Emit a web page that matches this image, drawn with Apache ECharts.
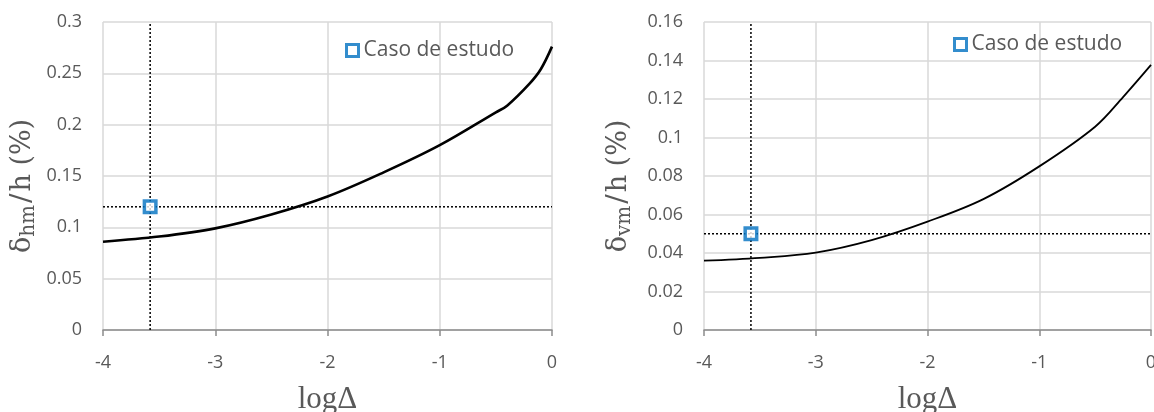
<!DOCTYPE html>
<html>
<head>
<meta charset="utf-8">
<script src="https://cdn.jsdelivr.net/npm/echarts@6/dist/echarts.min.js"></script>
<style>
  html, body { margin: 0; padding: 0; background: #fff; }
  #chart { width: 1154px; height: 412px; }
</style>
</head>
<body>
<div id="chart"></div>
<script>
// log(Delta) sample positions of each curve
const logDeltaH = [-4, -3.5, -3, -2.5, -2, -1.5, -1, -0.5, -0.4, -0.2, -0.1, 0];
const deltaHm   = [0.086, 0.091, 0.099, 0.1125, 0.130, 0.1535, 0.180, 0.212, 0.2185, 0.240, 0.254, 0.276];

const logDeltaV = [-4, -3.5, -3, -2.5, -2, -1.5, -1, -0.5, -0.25, 0];
const deltaVm   = [0.036, 0.0375, 0.0402, 0.0467, 0.0563, 0.068, 0.085, 0.1056, 0.121, 0.1377];

// case study point
const caseLogDelta = -3.58;
const caseHm = 0.12;
const caseVm = 0.05;

// axis ranges and tick steps
const xRange = [-4, 0];
const xStep = 1;
const yRangeH = [0, 0.3];
const yStepH = 0.05;
const yRangeV = [0, 0.16];
const yStepV = 0.02;

const legendName = 'Caso de estudo';
const xTitle = 'logΔ';

const tickFont = 'Open Sans';
const titleFont = 'Liberation Serif';
const nameFont = 'DejaVu Serif';
const gray = '#595959';
const gridGray = '#d9d9d9';
const blue = '#0070C0';

const pairs = (xs, ys) => xs.map((x, i) => [x, ys[i]]);

function yName(sub) {
  return '{d|δ}{s|' + sub + '}{sl|/}{d|h (%)}';
}

const nameRich = {
  d: { fontFamily: nameFont, fontSize: 27, color: gray },
  sl: { fontFamily: nameFont, fontSize: 28, color: gray, padding: [0, 2, 0, 2] },
  s: { fontFamily: nameFont, fontSize: 20, color: gray, padding: [12, 0, 0, 0] }
};

function xAxisCfg(gi) {
  return {
    gridIndex: gi, type: 'value', min: xRange[0], max: xRange[1], interval: xStep,
    name: xTitle, nameLocation: 'middle', nameGap: 54,
    nameTextStyle: { fontFamily: titleFont, fontSize: 31, color: gray },
    axisLine: { show: true, onZero: false, lineStyle: { color: '#8c8c8c', width: 1.5 } },
    axisTick: { show: true, length: 6, lineStyle: { color: '#8c8c8c', width: 1.5 } },
    axisLabel: { fontFamily: tickFont, fontSize: 18, color: gray, margin: 24 },
    splitLine: { show: true, lineStyle: { color: gridGray, width: 1.5 } }
  };
}

function yAxisCfg(gi, range, step, sub, gap) {
  return {
    gridIndex: gi, type: 'value', min: range[0], max: range[1], interval: step,
    name: yName(sub), nameLocation: 'middle', nameRotate: 90, nameGap: gap,
    nameTextStyle: { rich: nameRich, padding: [0, 20, 0, 0] },
    axisLine: { show: false },
    axisTick: { show: false },
    axisLabel: { fontFamily: tickFont, fontSize: 18, color: gray, margin: 21 },
    splitLine: { show: true, lineStyle: { color: gridGray, width: 1.5 } }
  };
}

function guideLines(gi, yVal, yRange) {
  const style = { color: '#000', width: 1.5, type: [2, 2] };
  return [
    {
      type: 'line', xAxisIndex: gi, yAxisIndex: gi, silent: true, symbol: 'none',
      data: [[caseLogDelta, yRange[0]], [caseLogDelta, yRange[1]]],
      lineStyle: style, z: 3
    },
    {
      type: 'line', xAxisIndex: gi, yAxisIndex: gi, silent: true, symbol: 'none',
      data: [[xRange[0], yVal], [xRange[1], yVal]],
      lineStyle: style, z: 3
    }
  ];
}

function curve(gi, xs, ys, w) {
  return {
    type: 'line', xAxisIndex: gi, yAxisIndex: gi, silent: true, symbol: 'none',
    smooth: 0.35, data: pairs(xs, ys),
    lineStyle: { color: '#000', width: w }, z: 4
  };
}

function casePoint(gi, yVal, name) {
  return {
    name: name, type: 'scatter', xAxisIndex: gi, yAxisIndex: gi,
    symbol: 'rect', symbolSize: 11.5,
    itemStyle: { color: '#fff', borderColor: blue, borderWidth: 3.5 },
    data: [[caseLogDelta, yVal]], z: 6
  };
}

function legendCfg(left, top, name) {
  return {
    left: left, top: top, padding: 0, itemWidth: 12, itemHeight: 12, itemGap: 4,
    data: [name], formatter: () => legendName,
    itemStyle: { borderWidth: 3 },
    textStyle: { fontFamily: tickFont, fontSize: 21, color: gray }
  };
}

const chart = echarts.init(document.getElementById('chart'), null, { renderer: 'canvas' });

chart.setOption({
  animation: false,
  backgroundColor: '#fff',
  grid: [
    { left: 103, top: 22, width: 449, height: 308, outerBoundsMode: 'none' },
    { left: 704, top: 22, width: 447, height: 308, outerBoundsMode: 'none' }
  ],
  legend: [
    legendCfg(345, 40, legendName),
    legendCfg(953, 34, legendName + ' ')
  ],
  xAxis: [xAxisCfg(0), xAxisCfg(1)],
  yAxis: [
    yAxisCfg(0, yRangeH, yStepH, 'hm', 64),
    yAxisCfg(1, yRangeV, yStepV, 'vm', 69)
  ],
  series: [
    ...guideLines(0, caseHm, yRangeH),
    curve(0, logDeltaH, deltaHm, 2.6),
    casePoint(0, caseHm, legendName),
    ...guideLines(1, caseVm, yRangeV),
    curve(1, logDeltaV, deltaVm, 1.8),
    casePoint(1, caseVm, legendName + ' ')
  ]
});
</script>
</body>
</html>
